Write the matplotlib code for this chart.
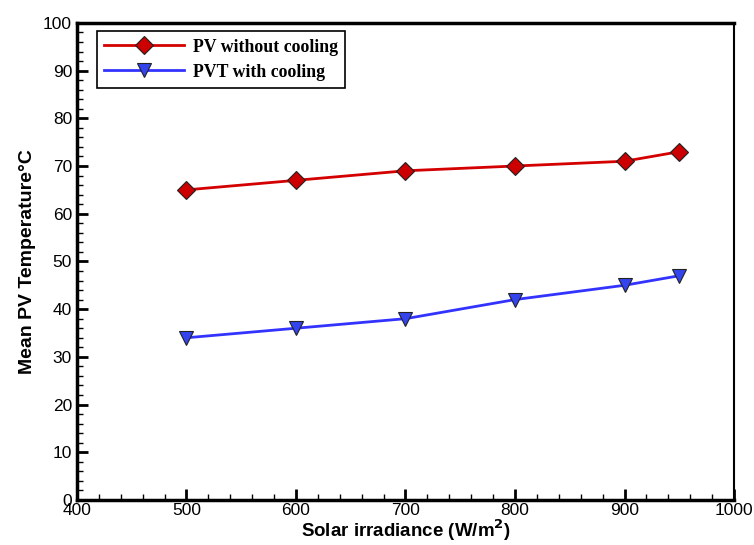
import matplotlib
matplotlib.use('Agg')
import matplotlib.pyplot as plt
from matplotlib.ticker import MultipleLocator

irradiance = [500, 600, 700, 800, 900, 950]
pv_no_cooling = [65, 67, 69, 70, 71, 73]
pvt_cooling = [34, 36, 38, 42, 45, 47]

fig = plt.figure(figsize=(7.54, 5.45), dpi=100)
ax = fig.add_axes([0.102, 0.0826, 0.8715, 0.8754])

ax.plot(irradiance, pv_no_cooling, color='#d40000', lw=2, marker='D', ms=9,
        mfc='#cc0000', mec='#222222', mew=0.8, label='PV without cooling')
ax.plot(irradiance, pvt_cooling, color='#3333ff', lw=2, marker='v', ms=10,
        mfc='#3344ee', mec='#222222', mew=0.8, label='PVT with cooling')

ax.set_xlim(400, 1000)
ax.set_ylim(0, 100)
ax.xaxis.set_major_locator(MultipleLocator(100))
ax.xaxis.set_minor_locator(MultipleLocator(20))
ax.yaxis.set_major_locator(MultipleLocator(10))
ax.yaxis.set_minor_locator(MultipleLocator(2))
ax.tick_params(which='both', direction='in', top=False, right=False)
ax.tick_params(which='major', length=8, width=2)
ax.tick_params(which='minor', length=4, width=1)
ax.tick_params(axis='x', pad=2)
for lab in ax.get_xticklabels() + ax.get_yticklabels():
    lab.set_family('Liberation Sans')
    lab.set_fontsize(12.5)
for s in ax.spines.values():
    s.set_linewidth(1.5)
ax.spines['left'].set_linewidth(2.5)
ax.spines['bottom'].set_linewidth(2.5)
ax.spines['top'].set_linewidth(2.5)

ax.set_xlabel(r'Solar irradiance (W/m$^\mathbf{2}$)', fontsize=13.5, fontweight='bold',
              family='Liberation Sans', labelpad=0)
ax.set_ylabel('Mean PV Temperature°C', fontsize=14, fontweight='bold',
              family='Liberation Sans', labelpad=5)

leg = ax.legend(loc='upper left', bbox_to_anchor=(0.031, 0.982), borderaxespad=0,
                fancybox=False, edgecolor='black', framealpha=1, handlelength=4.5,
                borderpad=0.4, labelspacing=0.45, handletextpad=0.5,
                prop={'family': 'Liberation Serif', 'weight': 'bold', 'size': 12.8})
leg.get_frame().set_linewidth(1.2)

fig.savefig('out.png', dpi=100)
